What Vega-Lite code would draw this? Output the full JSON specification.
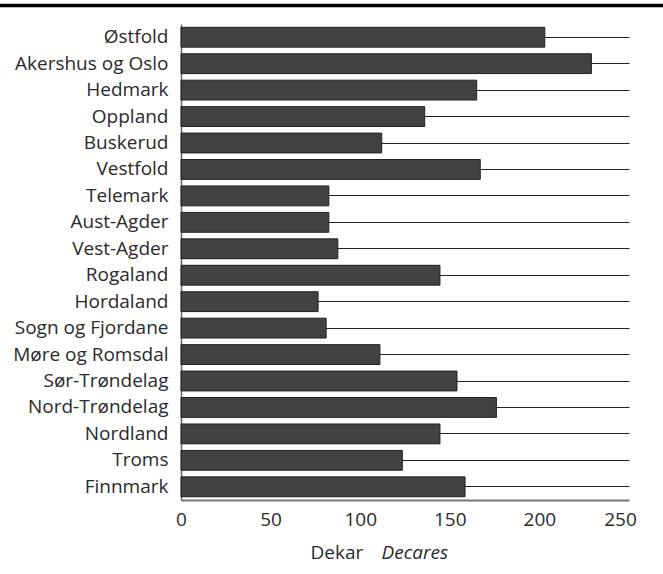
{
  "$schema": "https://vega.github.io/schema/vega-lite/v6.json",
  "width": 448,
  "height": 476,
  "autosize": {"type": "none"},
  "padding": {"left": 181, "top": 24, "right": 34, "bottom": 74},
  "config": {"font": "Open Sans", "view": {"stroke": null}},
  "layer": [
    {
      "data": {
        "values": [
          {"region": "Østfold", "value": 203},
          {"region": "Akershus og Oslo", "value": 229},
          {"region": "Hedmark", "value": 165},
          {"region": "Oppland", "value": 136},
          {"region": "Buskerud", "value": 112},
          {"region": "Vestfold", "value": 167},
          {"region": "Telemark", "value": 82.5},
          {"region": "Aust-Agder", "value": 82.5},
          {"region": "Vest-Agder", "value": 87.5},
          {"region": "Rogaland", "value": 144.5},
          {"region": "Hordaland", "value": 76.5},
          {"region": "Sogn og Fjordane", "value": 81},
          {"region": "Møre og Romsdal", "value": 111},
          {"region": "Sør-Trøndelag", "value": 154},
          {"region": "Nord-Trøndelag", "value": 176},
          {"region": "Nordland", "value": 144.5},
          {"region": "Troms", "value": 123.5},
          {"region": "Finnmark", "value": 158.5}
        ]
      },
      "mark": {"type": "bar", "fill": "#424242", "stroke": "#1f1f1f", "strokeWidth": 1},
      "encoding": {
        "y": {
          "field": "region",
          "type": "nominal",
          "sort": null,
          "scale": {"paddingInner": 0.25, "paddingOuter": 0.125},
          "axis": {
            "title": null,
            "grid": true,
            "bandPosition": 0.5,
            "gridColor": "#222222",
            "gridWidth": 1,
            "ticks": false,
            "tickSize": 0,
            "labelPadding": 13,
            "labelFontSize": 19,
            "labelColor": "#2a2a2a",
            "domainColor": "#666666",
            "domainWidth": 1.5
          }
        },
        "x": {
          "field": "value",
          "type": "quantitative",
          "scale": {"domain": [0, 250]},
          "axis": {
            "values": [0, 50, 100, 150, 200, 250],
            "grid": false,
            "ticks": false,
            "tickSize": 0,
            "labelFlush": false,
            "labelOffset": {"condition": {"test": "datum.value == 250", "value": -9}, "value": 0},
            "labelPadding": 10,
            "labelFontSize": 19,
            "labelColor": "#2a2a2a",
            "domainColor": "#777777",
            "domainWidth": 2,
            "title": "Dekar",
            "titleFontWeight": "normal",
            "titleFontSize": 19,
            "titleColor": "#2a2a2a",
            "titleAlign": "left",
            "titleBaseline": "alphabetic",
            "titleX": 129,
            "titleY": 58
          }
        }
      }
    },
    {
      "data": {"values": [{"decoration": "top rule"}]},
      "mark": {"type": "rule", "strokeWidth": 3.5, "color": "#000000"},
      "encoding": {
        "x": {
          "datum": -101,
          "type": "quantitative",
          "scale": {"domain": [0, 250]},
          "axis": {
            "orient": "top",
            "labels": false,
            "ticks": false,
            "domain": false,
            "grid": false,
            "title": "Decares",
            "titleFontWeight": "normal",
            "titleFontStyle": "italic",
            "titleFontSize": 19,
            "titleColor": "#2a2a2a",
            "titleAlign": "left",
            "titleBaseline": "alphabetic",
            "titleX": 200,
            "titleY": 534
          }
        },
        "x2": {"datum": 269},
        "y": {"value": -18.5}
      }
    }
  ],
  "resolve": {"axis": {"x": "independent"}}
}
